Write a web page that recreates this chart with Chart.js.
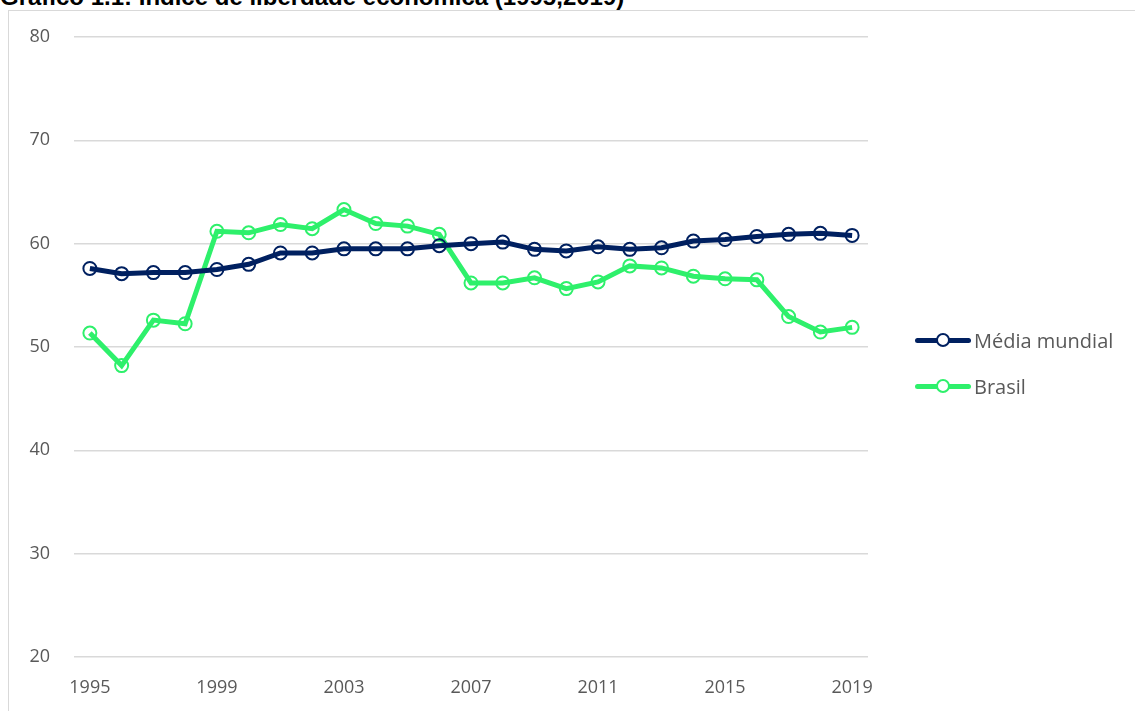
<!DOCTYPE html>
<html>
<head>
<meta charset="utf-8">
<script src="https://cdn.jsdelivr.net/npm/chart.js@4"></script>
<style>
  html, body { margin: 0; padding: 0; background: #fff; }
  body { width: 1135px; height: 711px; position: relative; overflow: hidden; font-family: "Open Sans", sans-serif; }
  #title { position: absolute; left: 0; top: -17px; line-height: 24px; font: bold 24px "Liberation Sans", Arial, sans-serif; color: #000; white-space: nowrap; }
  #frame { position: absolute; left: 8px; top: 10px; width: 1200px; height: 800px; border-left: 1px solid #d9d9d9; border-top: 1px solid #d9d9d9; }
  #wrap { position: absolute; left: 0; top: 0; width: 1135px; height: 711px; }
  #legend { position: absolute; left: 915px; top: 326px; }
  .item { display: flex; align-items: center; height: 28px; margin-bottom: 18px; font-size: 20px; color: #595959; }
  .sym { position: relative; width: 56px; height: 14px; margin-right: 3px; }
  .sym .ln { position: absolute; left: 0; right: 0; top: 5px; height: 5px; border-radius: 3px; }
  .sym .pt { position: absolute; left: 21px; top: 0; width: 10px; height: 10px; border-radius: 50%; background: #fff; border: 2px solid; }
</style>
</head>
<body>
<div id="title">Gráfico 1.1: Índice de liberdade econômica (1995,2019)</div>
<div id="frame"></div>
<div id="wrap"><canvas id="chart"></canvas></div>
<div id="legend"></div>
<script>
const years = ['1995', '1996', '1997', '1998', '1999', '2000', '2001', '2002', '2003', '2004', '2005', '2006',
  '2007', '2008', '2009', '2010', '2011', '2012', '2013', '2014', '2015', '2016', '2017', '2018', '2019'];
const mediaMundial = [57.6, 57.1, 57.2, 57.2, 57.5, 58.0, 59.1, 59.1, 59.5, 59.5, 59.5, 59.8,
  60.0, 60.15, 59.45, 59.3, 59.7, 59.45, 59.6, 60.25, 60.4, 60.7, 60.9, 61.0, 60.8];
const brasil = [51.35, 48.2, 52.6, 52.25, 61.2, 61.05, 61.85, 61.45, 63.3, 61.95, 61.7, 60.9,
  56.2, 56.2, 56.7, 55.65, 56.3, 57.85, 57.65, 56.85, 56.6, 56.5, 52.95, 51.45, 51.9];
const yTicks = [20, 30, 40, 50, 60, 70, 80];

const navy = '#002060';
const green = '#2ef06b';

const series = [
  { label: 'Média mundial', data: mediaMundial, color: navy },
  { label: 'Brasil', data: brasil, color: green }
];

const legend = document.getElementById('legend');
legend.innerHTML = series.map(s => `
  <div class="item">
    <span class="sym"><span class="ln" style="background:${s.color}"></span><span class="pt" style="border-color:${s.color}"></span></span>
    <span>${s.label}</span>
  </div>`).join('');

const tickFont = { family: '"Open Sans", sans-serif', size: 18 };

new Chart(document.getElementById('chart').getContext('2d'), {
  type: 'line',
  data: {
    labels: years,
    datasets: series.map(s => ({
      label: s.label,
      data: s.data,
      borderColor: s.color,
      backgroundColor: '#fff',
      borderWidth: 5,
      pointRadius: 6.5,
      pointBorderWidth: 2,
      pointBackgroundColor: 'rgba(255,255,255,0)',
      pointBorderColor: s.color,
      tension: 0
    }))
  },
  options: {
    responsive: true,
    maintainAspectRatio: false,
    animation: false,
    layout: { padding: { left: 20, right: 267, top: 37, bottom: 12 } },
    plugins: { legend: { display: false }, tooltip: { enabled: false } },
    scales: {
      x: {
        offset: true,
        grid: { display: false },
        border: { display: false },
        afterFit: (scale) => { scale.height = 42; },
        ticks: {
          autoSkip: false,
          maxRotation: 0,
          padding: 12,
          color: '#595959',
          font: tickFont,
          callback: (v, i) => (i % 4 === 0 ? years[i] : '')
        }
      },
      y: {
        min: 20,
        max: 80,
        afterFit: (scale) => { scale.width = 54; },
        afterBuildTicks: (scale) => { scale.ticks = yTicks.map(v => ({ value: v })); },
        grid: { color: '#d9d9d9', lineWidth: 1.5, drawTicks: false },
        border: { display: false },
        ticks: { padding: 24, color: '#595959', font: tickFont }
      }
    }
  }
});
</script>
</body>
</html>
